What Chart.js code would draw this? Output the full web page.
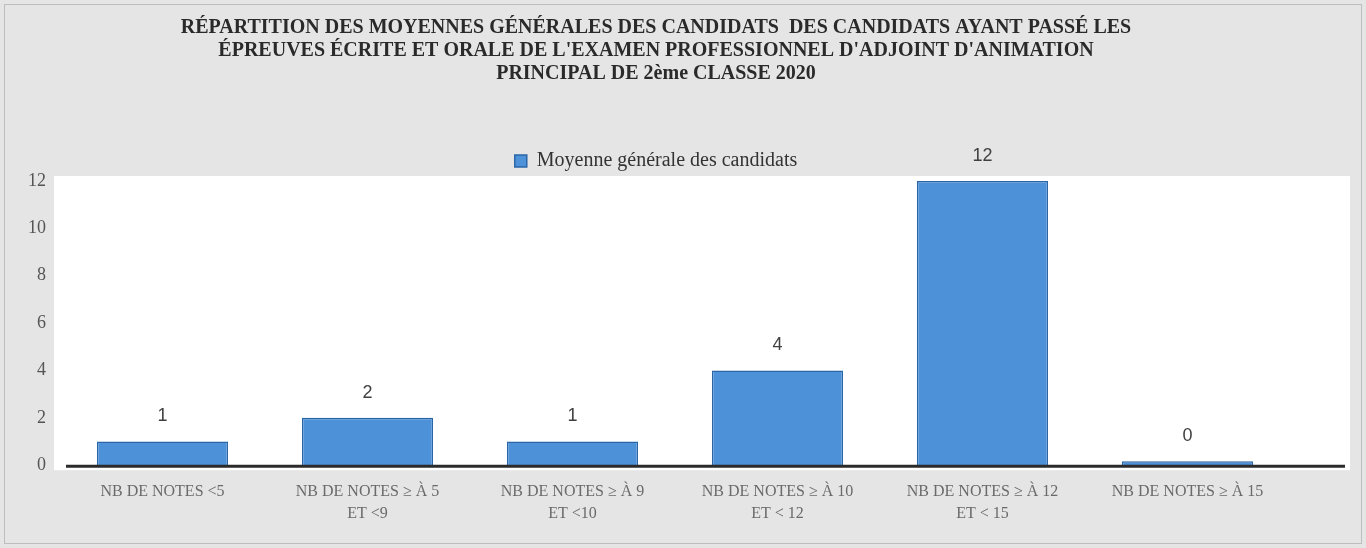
<!DOCTYPE html>
<html><head><meta charset="utf-8">
<script src="https://cdn.jsdelivr.net/npm/chart.js@4/dist/chart.umd.min.js"></script>
<style>html,body{margin:0;padding:0;background:#e5e5e5;}#wrap{width:1366px;height:548px;position:relative;}</style>
</head><body><div id="wrap"><canvas id="c" width="1366" height="548"></canvas></div>
<script>
const titleLines = ["RÉPARTITION DES MOYENNES GÉNÉRALES DES CANDIDATS  DES CANDIDATS AYANT PASSÉ LES","ÉPREUVES ÉCRITE ET ORALE DE L'EXAMEN PROFESSIONNEL D'ADJOINT D'ANIMATION","PRINCIPAL DE 2ème CLASSE 2020"];
const categories = [["NB DE NOTES <5"],["NB DE NOTES ≥ À 5","ET <9"],["NB DE NOTES ≥ À 9","ET <10"],["NB DE NOTES ≥ À 10","ET < 12"],["NB DE NOTES ≥ À 12","ET < 15"],["NB DE NOTES ≥ À 15"]];
const seriesName = "Moyenne générale des candidats";
const values = [1,2,1,4,12,0];
const yTicks = [0,2,4,6,8,10,12];

const bgPlugin = {
  id:'bg',
  beforeDraw(chart){
    const {ctx, chartArea:a} = chart;
    ctx.save();
    ctx.fillStyle='#e5e5e5';
    ctx.fillRect(0,0,chart.width,chart.height);
    ctx.strokeStyle='#bdbdbd';ctx.lineWidth=1;
    ctx.strokeRect(4.5,4.5,chart.width-9,chart.height-9);
    ctx.fillStyle='#ffffff';
    ctx.fillRect(a.left-6,a.top-5,chart.width-16-(a.left-6),a.bottom-a.top+10);
    ctx.restore();
  },
  afterDatasetsDraw(chart){
    const {ctx, chartArea:a} = chart;
    const y0 = chart.scales.y.getPixelForValue(0);
    ctx.save();
    ctx.strokeStyle='#2b2b2b';ctx.lineWidth=3;
    ctx.beginPath();ctx.moveTo(a.left+6,y0+1);ctx.lineTo(chart.width-21,y0+1);ctx.stroke();
    const meta = chart.getDatasetMeta(0);
    ctx.fillStyle='#404040';
    ctx.font='18px "Liberation Sans", Arial, sans-serif';
    ctx.textAlign='center';ctx.textBaseline='bottom';
    meta.data.forEach((el,i)=>{
      ctx.fillText(String(values[i]), el.x, el.y-16);
    });
    ctx.restore();
  }
};

new Chart(document.getElementById('c'),{
  type:'bar',
  data:{labels:categories,datasets:[{label:seriesName,data:values,backgroundColor:'#4d92d8',borderColor:'#2a65a8',borderWidth:1.5,barPercentage:0.64,categoryPercentage:1,minBarLength:4}]},
  options:{
    responsive:false,animation:false,
    layout:{padding:{left:22,right:76,top:8,bottom:16}},
    plugins:{
      title:{display:true,text:titleLines,color:'#2a2a2a',font:{family:'"Liberation Serif", serif',size:20,weight:'bold',lineHeight:1.15},padding:{top:8,bottom:66}},
      legend:{display:true,position:'top',labels:{color:'#333',font:{family:'"Liberation Serif", serif',size:20},boxWidth:12,boxHeight:12,padding:0}},
      tooltip:{enabled:false}
    },
    scales:{
      x:{grid:{display:false},border:{display:false},
        ticks:{color:'#6a6a6a',font:{family:'"Liberation Serif", serif',size:16,lineHeight:1.4},maxRotation:0,autoSkip:false,padding:7}},
      y:{min:0,max:12,afterBuildTicks(s){s.ticks=yTicks.map(v=>({value:v}));},grid:{display:false},border:{display:false},
        ticks:{color:'#555',font:{family:'"Liberation Serif", serif',size:18},padding:6}}
    }
  },
  plugins:[bgPlugin]
});
</script></body></html>
